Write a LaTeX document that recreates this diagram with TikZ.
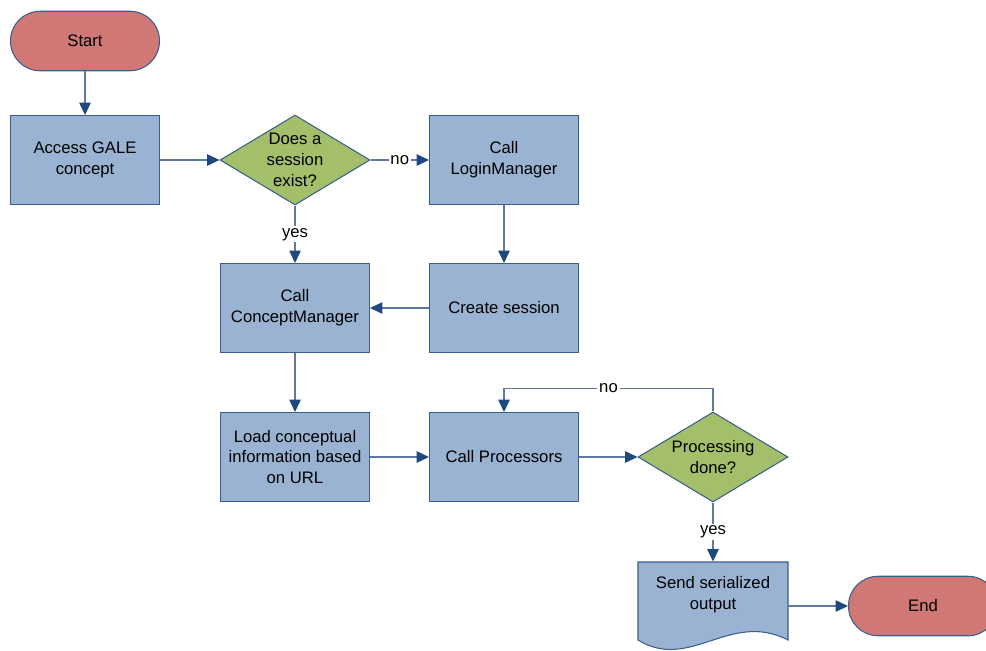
\documentclass[tikz,border=0pt]{standalone}
\usepackage{fontspec}
\setmainfont{Liberation Sans}
\usetikzlibrary{shapes.geometric,arrows.meta}
\definecolor{termred}{RGB}{207,120,117}
\definecolor{procblue}{RGB}{154,179,210}
\definecolor{decgreen}{RGB}{163,191,106}
\definecolor{edgeblue}{RGB}{58,95,142}
\definecolor{linegray}{RGB}{92,122,162}
\definecolor{tipblue}{RGB}{31,73,125}

\begin{document}
\begin{tikzpicture}[x=0.02cm,y=-0.02cm,
    font=\fontsize{9.5}{11.9}\selectfont,
    box/.style={draw=edgeblue, fill=procblue, line width=0.6pt, minimum width=2.98cm, minimum height=1.78cm, align=center, inner sep=0pt},
    decision/.style={diamond, draw=edgeblue, fill=decgreen, line width=0.6pt, minimum width=3cm, minimum height=1.8cm, shape aspect=1.67, inner sep=0pt},
    terminal/.style={draw=edgeblue, fill=termred, line width=0.6pt, rounded corners=0.59cm, minimum width=2.98cm, minimum height=1.19cm},
    conn/.style={draw=linegray, line width=0.6pt, -{Triangle[color=tipblue,length=7pt,width=6.5pt]}},
    lbl/.style={fill=white, inner sep=1pt}]
    \useasboundingbox (0,0) rectangle (986,650);
    \clip (0,0) rectangle (986,650);

    % shapes
    \node[terminal] (start) at (85,41) {Start};
    \node[box] (access) at (85,160) {Access GALE\\concept};
    \node[decision, label={[align=center]center:Does a\\session\\exist?}] (dec1) at (295,160) {};
    \node[box] (login) at (504,160) {Call\\LoginManager};
    \node[box] (concept) at (295,308) {Call\\ConceptManager};
    \node[box] (create) at (504,308) {Create session};
    \node[box] (load) at (295,457) {Load conceptual\\information based\\on URL};
    \node[box] (proc) at (504,457) {Call Processors};
    \node[decision, label={[align=center]center:Processing\\done?}] (dec2) at (713,457) {};

    % document shape for the output step
    \fill[procblue] (638,562) -- (788,562) -- (788,640)
        .. controls (730,610) and (690,672) .. (638,640) -- cycle;
    \draw[edgeblue, line width=0.6pt] (638,562) -- (788,562) -- (788,640)
        .. controls (730,610) and (690,672) .. (638,640) -- cycle;
    \node[box, draw=none, fill=none, minimum height=1.32cm] (send) at (713,595) {Send serialized\\output};
    \node[terminal] (stop) at (923,606) {End};

    % connectors
    \draw[conn] (start) -- (access);
    \draw[conn] (access) -- (dec1);
    \draw[conn] (dec1) -- node[lbl]{no} (login);
    \draw[conn] (dec1) -- node[lbl]{yes} (concept);
    \draw[conn] (login) -- (create);
    \draw[conn] (create) -- (concept);
    \draw[conn] (concept) -- (load);
    \draw[conn] (load) -- (proc);
    \draw[conn] (proc) -- (dec2);
    \draw[conn] (dec2.north) -- ++(0,-23) -| node[lbl, pos=0.25]{no} (proc.north);
    \draw[conn] (dec2) -- node[lbl]{yes} (send);
    \draw[conn] (send.east |- stop.west) -- (stop.west);

\end{tikzpicture}
\end{document}
